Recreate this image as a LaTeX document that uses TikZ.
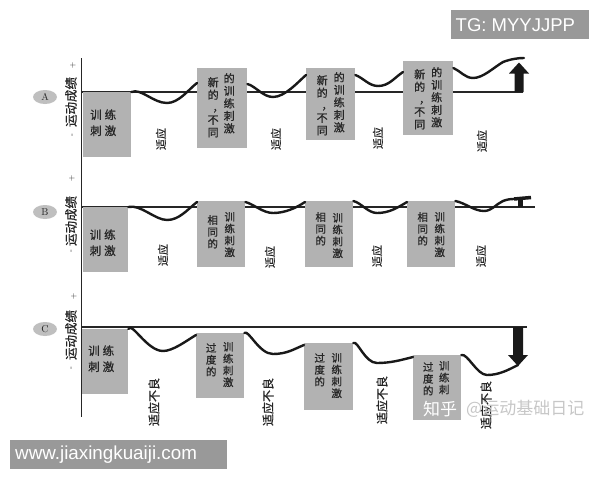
\documentclass[tikz,border=0pt]{standalone}
\usepackage{fontspec}
\setsansfont{Liberation Sans}
\newfontfamily\cjk{Noto Sans CJK SC}
\newfontfamily\cjkb[FakeBold=0.8]{Noto Sans CJK SC}
\usetikzlibrary{calc,shapes.geometric}
\newcommand\mycomma{\makebox[1em][l]{\hspace{0.45em}，}}
\begin{document}
\begin{tikzpicture}[x=1pt,y=-1pt,
  stim/.style={fill=black!30, draw=none, inner sep=0pt, anchor=north west},
  perfcurve/.style={line width=2.4pt, black!90, line cap=round, line join=round},
  refline/.style={line width=1.3pt, black!85},
  axisline/.style={line width=1.5pt, black!85},
  colA/.style={font=\cjkb\fontsize{11}{12.5}\selectfont, align=center, inner sep=0pt, anchor=north, text=black!85},
  colB/.style={font=\cjkb\fontsize{10.5}{11.8}\selectfont, align=center, inner sep=0pt, anchor=north, text=black!85},
  hz/.style={font=\cjkb\fontsize{11.5}{16}\selectfont, align=center, inner sep=0pt, text=black!85},
  adapt/.style={font=\cjkb\fontsize{11}{11}\selectfont, rotate=90, inner sep=0pt, text=black!85},
  adaptbad/.style={font=\cjkb\fontsize{12}{12}\selectfont, rotate=90, inner sep=0pt, text=black!85},
  ylab/.style={font=\cjkb\fontsize{12.5}{12.5}\selectfont, rotate=90, inner sep=0pt, text=black!85},
  signmark/.style={font=\fontsize{8}{8}\selectfont, inner sep=0pt, text=black!85},
  tag/.style={ellipse, fill=black!25, minimum width=24pt, minimum height=14pt, inner sep=0pt, font=\fontsize{10}{10}\selectfont, text=black!85},
  wmbox/.style={fill=black!40, draw=none, inner sep=0pt, anchor=north west},
  wmtext/.style={font=\sffamily\fontsize{18.5}{18.5}\selectfont, text=white, inner sep=0pt, anchor=west},
  zh/.style={font=\cjk\fontsize{17}{17}\selectfont, inner sep=0pt, anchor=west},
  bigfill/.style={fill=black!90}
]
\useasboundingbox (0,0) rectangle (600,480);
\fill[white] (0,0) rectangle (600,480);

% axis
\coordinate (axT) at (81.5,58);
\coordinate (axB) at (81.5,417);
\draw[axisline] (axT) -- (axB);

% reference lines
\coordinate (aL) at (81.5,92);  \coordinate (aR) at (523,92);
\coordinate (bL) at (81.5,207); \coordinate (bR) at (535,207);
\coordinate (cL) at (81.5,327); \coordinate (cR) at (527,327);
\draw[refline] (aL) -- (aR);
\draw[refline] (bL) -- (bR);
\draw[refline] (cL) -- (cR);

% axis labels
\node[signmark] (apl) at (73,65) {+};
\node[ylab] (ay) at (71,102) {运动成绩};
\node[signmark, rotate=90] (amn) at (73,135) {-};
\node[signmark] (bpl) at (72,178) {+};
\node[ylab] (by) at (71,221) {运动成绩};
\node[signmark, rotate=90] (bmn) at (72,251) {-};
\node[signmark] (cpl) at (74,296) {+};
\node[ylab] (cy) at (71,335) {运动成绩};
\node[signmark, rotate=90] (cmn) at (72,368) {-};

\node[tag] (ta) at (45,97) {A};
\node[tag] (tb) at (45,212) {B};
\node[tag] (tc) at (45,329) {C};

% boxes A
\node[stim, minimum width=48pt, minimum height=65pt] (a1) at (83,92) {};
\node[stim, minimum width=50pt, minimum height=80pt] (a2) at (197,68) {};
\node[stim, minimum width=49pt, minimum height=72pt] (a3) at (306,68) {};
\node[stim, minimum width=50pt, minimum height=74pt] (a4) at (403,61) {};
% boxes B
\node[stim, minimum width=45pt, minimum height=65pt] (b1) at (83,207) {};
\node[stim, minimum width=48pt, minimum height=66pt] (b2) at (197,201) {};
\node[stim, minimum width=48pt, minimum height=66pt] (b3) at (305,201) {};
\node[stim, minimum width=48pt, minimum height=66pt] (b4) at (407,201) {};
% boxes C
\node[stim, minimum width=46pt, minimum height=65pt] (c1) at (82,329) {};
\node[stim, minimum width=48pt, minimum height=65pt] (c2) at (196,333) {};
\node[stim, minimum width=49pt, minimum height=67pt] (c3) at (304,343) {};
\node[stim, minimum width=48pt, minimum height=65pt] (c4) at (413,355) {};

% box texts
\node[hz] (a1t) at ($(a1.center)+(-4,-2)$) {训\hspace{3pt}练\\刺\hspace{3pt}激};
\node[hz] (b1t) at ($(b1.center)+(-3,3)$) {训\hspace{3pt}练\\刺\hspace{3pt}激};
\node[hz] (c1t) at ($(c1.center)+(-4,-3)$) {训\hspace{3pt}练\\刺\hspace{3pt}激};

\node[colA] (a2l) at ($(a2.north)+(-9,9)$) {新\\的\\\mycomma\\不\\同};
\node[colA] (a2r) at ($(a2.north)+(7,5)$) {的\\训\\练\\刺\\激};
\node[colA] (a3l) at ($(a3.north)+(-8.5,7)$) {新\\的\\\mycomma\\不\\同};
\node[colA] (a3r) at ($(a3.north)+(8.5,4)$) {的\\训\\练\\刺\\激};
\node[colA] (a4l) at ($(a4.north)+(-8.5,8)$) {新\\的\\\mycomma\\不\\同};
\node[colA] (a4r) at ($(a4.north)+(8.5,6)$) {的\\训\\练\\刺\\激};

\node[colB] (b2l) at ($(b2.north)+(-8.5,14)$) {相\\同\\的};
\node[colB] (b2r) at ($(b2.north)+(8.5,11)$) {训\\练\\刺\\激};
\node[colB] (b3l) at ($(b3.north)+(-8.5,11)$) {相\\同\\的};
\node[colB] (b3r) at ($(b3.north)+(8.5,12)$) {训\\练\\刺\\激};
\node[colB] (b4l) at ($(b4.north)+(-8.5,11)$) {相\\同\\的};
\node[colB] (b4r) at ($(b4.north)+(8.5,11)$) {训\\练\\刺\\激};

\node[colB] (c2l) at ($(c2.north)+(-9,10)$) {过\\度\\的};
\node[colB] (c2r) at ($(c2.north)+(8,9)$) {训\\练\\刺\\激};
\node[colB] (c3l) at ($(c3.north)+(-9,10)$) {过\\度\\的};
\node[colB] (c3r) at ($(c3.north)+(8,10)$) {训\\练\\刺\\激};
\node[colB] (c4l) at ($(c4.north)+(-9,7)$) {过\\度\\的};
\node[colB] (c4r) at ($(c4.north)+(7,6)$) {训\\练\\刺};

% adaptation labels
\node[adapt] (ad1) at (161,139) {适应};
\node[adapt] (ad2) at (276,139) {适应};
\node[adapt] (ad3) at (378,138) {适应};
\node[adapt] (ad4) at (482,141) {适应};
\node[adapt] (bd1) at (163,255) {适应};
\node[adapt] (bd2) at (270,257) {适应};
\node[adapt] (bd3) at (377,256) {适应};
\node[adapt] (bd4) at (481,256) {适应};
\node[adaptbad] (cd1) at (154,402) {适应不良};
\node[adaptbad] (cd2) at (268,402) {适应不良};
\node[adaptbad] (cd3) at (382,400) {适应不良};
\node[adaptbad] (cd4) at (486,405) {适应不良};

% curves A
\coordinate (ea) at (524,58);
\draw[perfcurve] (a1.north east) .. controls +(10,-4) and +(-14,0) .. (167,103)
  .. controls +(12,0) and +(-8,6) .. ($(a2.north west)+(0,15)$);
\draw[perfcurve] ($(a2.north east)+(0,16)$) .. controls +(8,2) and +(-10,0) .. (273,97)
  .. controls +(12,0) and +(-8,7) .. ($(a3.north west)+(0,7)$);
\draw[perfcurve] ($(a3.north east)+(0,7)$) .. controls +(8,3) and +(-9,0) .. (378,86)
  .. controls +(11,0) and +(-9,6) .. ($(a4.north west)+(0,11)$);
\draw[perfcurve] ($(a4.north east)+(0,7)$) .. controls +(7,3) and +(-8,0) .. (473,78)
  .. controls +(10,0) and +(-10,6) .. (503,62) .. controls +(8,-3) and +(-6,0) .. (ea);
% arrow A (up)
\coordinate (arA0) at (519,92);
\coordinate (arA1) at (519,62.5);
\fill[bigfill] (arA0) ++(-4.5,0) -- ++(0,-18.5) -- ++(-5.5,0) -- (arA1) -- ++(10,11) -- ++(-5.5,0) -- ++(0,18.5) -- cycle;

% curves B
\coordinate (eb) at (514,199);
\draw[perfcurve] (b1.north east) .. controls +(12,-3) and +(-12,0) .. (167,220)
  .. controls +(12,0) and +(-10,8) .. ($(b2.north west)+(0,1)$);
\draw[perfcurve] ($(b2.north east)+(0,1)$) .. controls +(8,2) and +(-10,0) .. (273,213)
  .. controls +(12,0) and +(-9,6) .. ($(b3.north west)+(0,1)$);
\draw[perfcurve] (b3.north east) .. controls +(8,2) and +(-9,0) .. (377,213)
  .. controls +(12,0) and +(-10,6) .. ($(b4.north west)+(0,1)$);
\draw[perfcurve] (b4.north east) .. controls +(10,2) and +(-10,0) .. (484,211)
  .. controls +(8,0) and +(-7,3) .. (503,201) .. controls +(4,-1.5) and +(-4,0) .. (eb);
% marker B
\coordinate (mbT) at (520,198.5);
\coordinate (mbB) at (520,207);
\draw[line width=5pt, black!90] (mbB) -- (mbT);
\draw[line width=3.5pt, black!90] (eb) -- (531,197.5);

% curves C
\coordinate (ec) at (518,365);
\draw[perfcurve] (c1.north east) .. controls +(3,-8) and +(-16,0) .. (163,351)
  .. controls +(10,0) and +(-10,6) .. ($(c2.north west)+(0,2)$);
\draw[perfcurve] (c2.north east) .. controls +(4,-4) and +(-14,0) .. (273,354)
  .. controls +(14,0) and +(-10,4) .. ($(c3.north west)+(0,2)$);
\draw[perfcurve] (c3.north east) .. controls +(4,-3) and +(-12,0) .. (377,363)
  .. controls +(14,0) and +(-12,3) .. ($(c4.north west)+(0,2)$);
\draw[perfcurve] (c4.north east) .. controls +(6,-2) and +(-10,0) .. (487,375)
  .. controls +(12,0) and +(-10,5) .. (ec);
% arrow C (down)
\coordinate (arC0) at (518,327);
\coordinate (arC1) at (518,366);
\fill[bigfill] (arC0) ++(-5,0) -- ++(0,28) -- ++(-5,0) -- (arC1) -- ++(10,-11) -- ++(-5,0) -- ++(0,-28) -- cycle;

% watermarks
\node[wmbox, minimum width=138pt, minimum height=29pt] (tgbox) at (451,10) {};
\node[wmtext] (tgtext) at ($(tgbox.west)+(4.5,0)$) {TG: MYYJJPP};
\node[wmbox, minimum width=217pt, minimum height=29pt] (wwwbox) at (10,440) {};
\node[wmtext, font=\sffamily\fontsize{18.8}{18.8}\selectfont] (wwwtext) at ($(wwwbox.west)+(5,0)$) {www.jiaxingkuaiji.com};
\node[zh, text=white] (zh1) at (423,409) {知乎};
\node[zh, text=black!22] (zh2) at (466,409) {@运动基础日记};
\end{tikzpicture}
\end{document}
